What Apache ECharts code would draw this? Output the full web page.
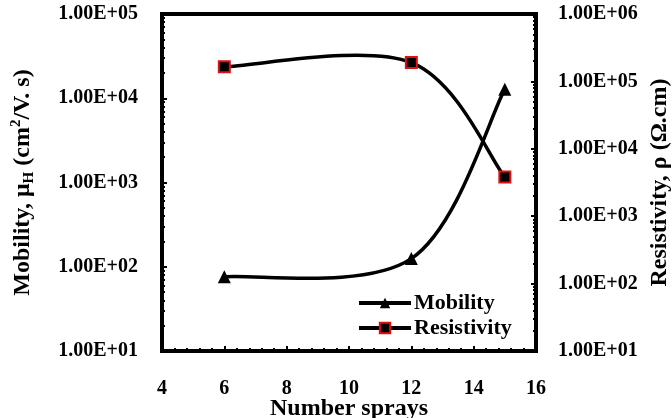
<!DOCTYPE html>
<html>
<head>
<meta charset="utf-8">
<script src="https://cdn.jsdelivr.net/npm/echarts@6/dist/echarts.min.js"></script>
<style>
  html, body { margin: 0; padding: 0; background: #fff; }
  #chart { width: 672px; height: 418px; }
</style>
</head>
<body>
<div id="chart"></div>
<script>
// data
var sprays = [6, 12, 15]
var mobility = [76, 125, 12800]
var resistivity = [165000, 190000, 3800]

var font = 'Liberation Serif'

function sci (v) { // 1.00E+05 style
  var s = v.toExponential(2).toUpperCase()
  return s.replace(/E([+-])(\d)$/, 'E$10$2')
}

// spreadsheet style smooth curve (catmull-rom -> bezier) in pixel space
function smoothCurve (values) {
  return function (params, api) {
    if (params.dataIndex !== 0) return null
    var p = sprays.map(function (x, i) { return api.coord([x, values[i]]) })
    var n = p.length
    var kids = []
    for (var i = 0; i < n - 1; i++) {
      var p0 = p[Math.max(i - 1, 0)]
      var p1 = p[i]
      var p2 = p[i + 1]
      var p3 = p[Math.min(i + 2, n - 1)]
      kids.push({
        type: 'bezierCurve',
        shape: {
          x1: p1[0], y1: p1[1],
          cpx1: p1[0] + (p2[0] - p0[0]) / 6, cpy1: p1[1] + (p2[1] - p0[1]) / 6,
          cpx2: p2[0] - (p3[0] - p1[0]) / 6, cpy2: p2[1] - (p3[1] - p1[1]) / 6,
          x2: p2[0], y2: p2[1]
        },
        style: { stroke: '#000', lineWidth: 3.5, fill: null }
      })
    }
    return { type: 'group', children: kids }
  }
}

var chart = echarts.init(document.getElementById('chart'))
var option = {
  animation: false,
  textStyle: { fontFamily: font },
  grid: {
    left: 162, right: 136, top: 14, bottom: 67,
    containLabel: false,
    outerBoundsMode: 'none',
    show: true, borderColor: '#000', borderWidth: 4
  },
  legend: {
    orient: 'vertical',
    left: 352,
    top: 287,
    itemWidth: 52,
    itemHeight: 13,
    itemGap: 3,
    lineStyle: { width: 4, color: '#000', opacity: 1 },
    textStyle: { fontFamily: font, fontWeight: 'bold', fontSize: 22, color: '#000', padding: [0, 0, 0, -2] },
    data: ['Mobility', 'Resistivity']
  },
  xAxis: {
    type: 'value',
    min: 4,
    max: 16,
    interval: 2,
    name: 'Number sprays',
    nameLocation: 'middle',
    nameMoveOverlap: false,
    nameGap: 46,
    nameTextStyle: { fontFamily: font, fontWeight: 'bold', fontSize: 24, color: '#000' },
    axisLine: { lineStyle: { color: '#000', width: 4 } },
    axisTick: { inside: true, length: 5, lineStyle: { color: '#000', width: 2 } },
    minorTick: { show: true, splitNumber: 5, length: 3, lineStyle: { color: '#000', width: 2 } },
    splitLine: { show: false },
    axisLabel: { margin: 28, fontFamily: font, fontWeight: 'bold', fontSize: 20, color: '#000' }
  },
  yAxis: [
    {
      type: 'log',
      logBase: 10,
      min: 10,
      max: 100000,
      interval: 1,
      position: 'left',
      name: '{a|Mobility, μ}{sub|H}{a| (cm}{sup|2}{a|/V. s)}',
      nameLocation: 'middle',
      nameMoveOverlap: false,
      nameRotate: 90,
      nameGap: 125,
      nameTextStyle: {
        color: '#000',
        rich: {
          a: { fontFamily: font, fontWeight: 'bold', fontSize: 24, color: '#000', lineHeight: 28 },
          sub: { fontFamily: font, fontWeight: 'bold', fontSize: 15, color: '#000', lineHeight: 28, verticalAlign: 'bottom', padding: [7, 0, 0, 0] },
          sup: { fontFamily: font, fontWeight: 'bold', fontSize: 15, color: '#000', lineHeight: 28, verticalAlign: 'top', padding: [0, 0, 9, 0] }
        }
      },
      axisLine: { show: true, lineStyle: { color: '#000', width: 4 } },
      axisTick: { show: true, inside: true, length: 5, lineStyle: { color: '#000', width: 2 } },
      minorTick: { show: true, splitNumber: 9, length: 3, lineStyle: { color: '#000', width: 2 } },
      splitLine: { show: false },
      axisLabel: { margin: 24, fontFamily: font, fontWeight: 'bold', fontSize: 20, color: '#000', formatter: sci }
    },
    {
      type: 'log',
      logBase: 10,
      min: 10,
      max: 1000000,
      interval: 1,
      position: 'right',
      name: 'Resistivity, ρ (Ω.cm)',
      nameLocation: 'middle',
      nameMoveOverlap: false,
      nameRotate: 90,
      nameGap: 112,
      nameTextStyle: { fontFamily: font, fontWeight: 'bold', fontSize: 24, color: '#000' },
      axisLine: { show: true, lineStyle: { color: '#000', width: 4 } },
      axisTick: { show: true, inside: true, length: 5, lineStyle: { color: '#000', width: 2 } },
      minorTick: { show: true, splitNumber: 9, length: 3, lineStyle: { color: '#000', width: 2 } },
      splitLine: { show: false },
      axisLabel: { margin: 22, fontFamily: font, fontWeight: 'bold', fontSize: 20, color: '#000', formatter: sci }
    }
  ],
  series: [
    {
      name: 'mobilityCurve',
      type: 'custom',
      yAxisIndex: 0,
      z: 2,
      renderItem: smoothCurve(mobility),
      data: sprays.map(function (x, i) { return [x, mobility[i]] })
    },
    {
      name: 'resistivityCurve',
      type: 'custom',
      yAxisIndex: 1,
      z: 2,
      renderItem: smoothCurve(resistivity),
      data: sprays.map(function (x, i) { return [x, resistivity[i]] })
    },
    {
      name: 'Mobility',
      type: 'line',
      yAxisIndex: 0,
      z: 3,
      symbol: 'triangle',
      symbolSize: 13,
      itemStyle: { color: '#000' },
      lineStyle: { color: '#000', width: 3.5, opacity: 0 },
      data: sprays.map(function (x, i) { return [x, mobility[i]] })
    },
    {
      name: 'Resistivity',
      type: 'line',
      yAxisIndex: 1,
      z: 3,
      symbol: 'rect',
      symbolSize: 11,
      itemStyle: { color: '#000', borderColor: '#e01010', borderWidth: 2 },
      lineStyle: { color: '#000', width: 3.5, opacity: 0 },
      data: sprays.map(function (x, i) { return [x, resistivity[i]] })
    }
  ]
}
chart.setOption(option)
</script>
</body>
</html>
